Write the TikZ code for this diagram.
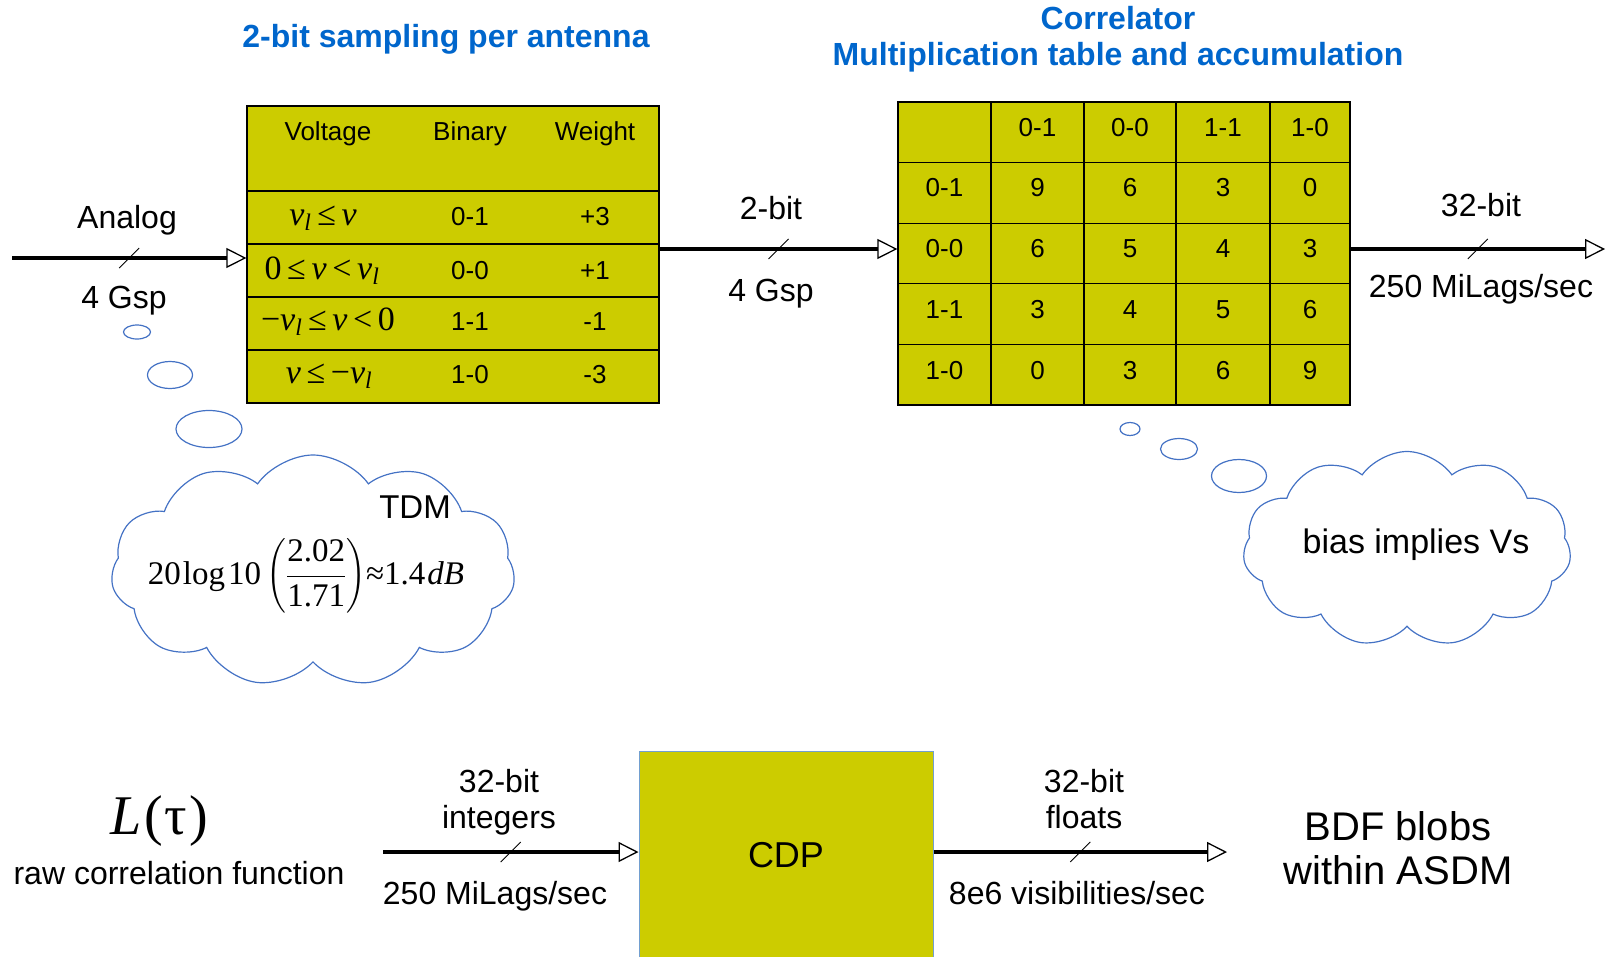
\RequirePackage{fix-cm}
\documentclass[tikz,border=0pt]{standalone}
\usepackage{amsmath}
\usepackage[no-math]{fontspec}
\setmainfont{Liberation Sans}
\newfontfamily\mserif{Liberation Serif}
\usepackage{tikz}
\usetikzlibrary{arrows.meta,shapes.symbols,positioning}
\definecolor{ALMAyellow}{HTML}{CCCC00}
\definecolor{ALMAblue}{HTML}{0066CC}
\definecolor{puffblue}{HTML}{4472C4}
\definecolor{boxblue}{HTML}{729FCF}

\tikzset{
  tbl/.style={draw, line width=1.3pt, fill=ALMAyellow, inner sep=0pt},
  lbl/.style={font=\fontsize{32}{36}\selectfont, align=center},
  cell/.style={font=\fontsize{26}{30}\selectfont, anchor=base},
  frm/.style={font=\fontsize{34}{38}\selectfont\mserif, anchor=base},
  ttl/.style={font=\fontsize{32}{36}\selectfont\bfseries, text=ALMAblue, align=center},
  bus/.style={line width=4pt, -{Triangle[open,length=20pt,width=20pt,line width=1.3pt]}},
  slash/.style={line width=0.9pt},
  puff/.style={draw=puffblue, line width=1.2pt},
}

\begin{document}
\begin{tikzpicture}[x=1pt,y=-1pt]
  \useasboundingbox (0,0) rectangle (1608,956);
  % titles
  \node[ttl] (t-samp) at (446,39) {2-bit sampling per antenna};
  \node[ttl] (t-corr) at (1118,39) {Correlator\\Multiplication table and accumulation};

  % sampling table
  \node[tbl, minimum width=412pt, minimum height=297pt] (samp) at (453,254.5) {};
  \foreach \y in {191,244,297,350}
    \draw[line width=1.3pt] (samp.west |- 0,\y) -- (samp.east |- 0,\y);
  \node[cell] (h-volt) at (328,140) {Voltage};
  \node[cell] (h-bin) at (470,140) {Binary};
  \node[cell] (h-wt) at (595,140) {Weight};
  \foreach \v/\x/\b/\w/\y [count=\i] in {
      {\itshape v\textsubscript{l}\,≤\,v}/323/0-1/+3/225,
      {0\,≤\,\itshape v\,\upshape<\,\itshape v\textsubscript{l}}/322/0-0/+1/279,
      {−\itshape v\textsubscript{l}\,\upshape≤\,\itshape v\,\upshape<\,0}/328/1-1/-1/330,
      {\itshape v\,\upshape≤\,−\itshape v\textsubscript{l}}/329/1-0/-3/383} {
    \node[frm] (v-\i) at (\x,\y) {\v};
    \node[cell] (b-\i) at (470,\y) {\b};
    \node[cell] (w-\i) at (595,\y) {\w};
  }

  % correlator table
  \node[tbl, minimum width=452pt, minimum height=303pt] (corr) at (1124,253.5) {};
  \foreach \x in {991,1084,1176,1270}
    \draw[line width=1.3pt] (corr.north -| \x,0) -- (corr.south -| \x,0);
  \foreach \y in {162.6,223.2,283.8,344.4}
    \draw[line width=1.3pt] (corr.west |- 0,\y) -- (corr.east |- 0,\y);
  \foreach \lab/\x [count=\i] in {0-1/1037.5,0-0/1130,1-1/1223,1-0/1310}
    \node[cell] (ch-\i) at (\x,136) {\lab};
  \foreach \lab/\a/\b/\c/\d [count=\i] in {0-1/9/6/3/0, 0-0/6/5/4/3,
      1-1/3/4/5/6, 1-0/0/3/6/9} {
    \node[cell] (r-\i) at (944.5,136+60.75*\i) {\lab};
    \node[cell] (c-\i-1) at (1037.5,136+60.75*\i) {\a};
    \node[cell] (c-\i-2) at (1130,136+60.75*\i) {\b};
    \node[cell] (c-\i-3) at (1223,136+60.75*\i) {\c};
    \node[cell] (c-\i-4) at (1310,136+60.75*\i) {\d};
  }

  % analog in
  \coordinate (ana-in) at (12,258);
  \draw[bus] (ana-in) -- (ana-in -| samp.west) coordinate[midway] (ana-m);
  \draw[slash] ([shift={(-10,10)}]ana-m) -- ([shift={(10,-10)}]ana-m);
  \node[lbl] (l-ana) at (127,220) {Analog};
  \node[lbl] (l-ana-r) at (124,301) {4 Gsp};

  % 2-bit
  \draw[bus] (samp.east |- 0,249) -- (corr.west |- 0,249) coordinate[midway] (bit-m);
  \draw[slash] ([shift={(-10,10)}]bit-m) -- ([shift={(10,-10)}]bit-m);
  \node[lbl] (l-bit) at (771,208) {2-bit};
  \node[lbl] (l-bit-r) at (771,294) {4 Gsp};

  % 32-bit out
  \coordinate (corr-out) at (1605,249);
  \draw[bus] (corr.east |- corr-out) -- (corr-out) coordinate[midway] (out-m);
  \draw[slash] ([shift={(-10,10)}]out-m) -- ([shift={(10,-10)}]out-m);
  \node[lbl] (l-out) at (1481,205) {32-bit};
  \node[lbl] (l-out-r) at (1481,289) {250 MiLags/sec};

  % thought clouds
  \draw[puff] (137,332) ellipse [x radius=13.5pt, y radius=7pt];
  \draw[puff] (170,375) ellipse [x radius=22.5pt, y radius=13.5pt];
  \draw[puff] (209,429) ellipse [x radius=33pt, y radius=18.5pt];
  \node[cloud, puff, cloud puffs=11, cloud puff arc=110, cloud ignores aspect,
        minimum width=404pt, minimum height=232pt] (tdm-cloud) at (313,571) {};
  \node[lbl, font=\fontsize{33}{36}\selectfont] (tdm) at (415,507) {TDM};
  \node[font=\fontsize{33}{38}\selectfont\mserif] (db) at (306,576)
    {$\mbox{20\kern2pt log\kern3pt 10}\left(\dfrac{\mbox{2.02}}{\mbox{1.71}}\right)\mkern-3mu\mbox{≈1.4\kern2pt\itshape dB}$};

  \draw[puff] (1130,429) ellipse [x radius=10pt, y radius=6.5pt];
  \draw[puff] (1179,449) ellipse [x radius=18.5pt, y radius=10.5pt];
  \draw[puff] (1239,476) ellipse [x radius=27.5pt, y radius=16.5pt];
  \node[cloud, puff, cloud puffs=11, cloud puff arc=110, cloud ignores aspect,
        minimum width=328pt, minimum height=195pt] (bias-cloud) at (1407,549) {};
  \node[lbl, font=\fontsize{34}{38}\selectfont] (bias) at (1416,545) {bias implies Vs};

  % CDP
  \node[font=\fontsize{56}{62}\selectfont\mserif] (ltau) at (159,821) {\itshape L\kern3pt\upshape(\kern2pt τ\kern2pt)};
  \node[lbl] (raw) at (179,873) {raw correlation function};
  \node[draw=boxblue, line width=1pt, fill=ALMAyellow, minimum width=294pt,
        minimum height=209pt, font=\fontsize{36}{40}\selectfont] (cdp) at (786,855.5) {CDP};
  \coordinate (raw-out) at (383,852);
  \draw[bus] (raw-out) -- (raw-out -| cdp.west) coordinate[midway] (int-m);
  \draw[slash] ([shift={(-10,10)}]int-m) -- ([shift={(10,-10)}]int-m);
  \node[lbl] (l-int) at (499,802) {32-bit\\integers};
  \node[lbl] (l-int-r) at (495,896) {250 MiLags/sec};
  \coordinate (bdf-in) at (1227,852);
  \draw[bus] (cdp.east |- bdf-in) -- (bdf-in) coordinate[midway] (flt-m);
  \draw[slash] ([shift={(-10,10)}]flt-m) -- ([shift={(10,-10)}]flt-m);
  \node[lbl] (l-flt) at (1084,799) {32-bit\\floats};
  \node[lbl] (l-flt-r) at (1077,893) {8e6 visibilities/sec};
  \node[lbl, font=\fontsize{40}{44}\selectfont] (bdf) at (1398,848) {BDF blobs\\within ASDM};
\end{tikzpicture}
\end{document}
